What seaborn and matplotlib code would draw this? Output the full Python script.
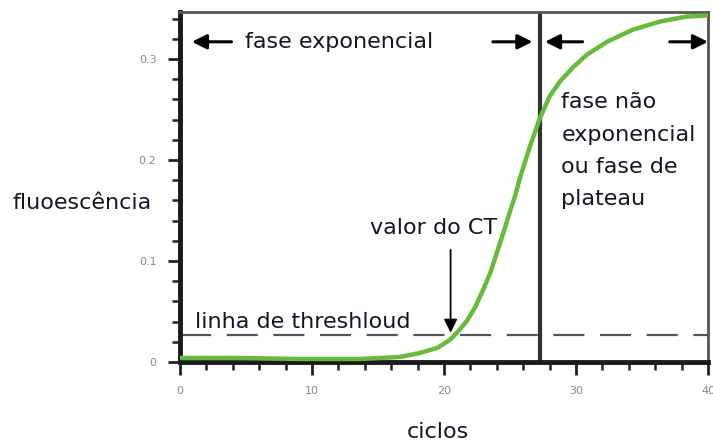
import numpy as np
import pandas as pd
import matplotlib
matplotlib.use("Agg")
import matplotlib.pyplot as plt
import seaborn as sns

# ---- data ----
ciclos = [0.0, 4.2, 9.1, 13.6, 16.7, 18.2, 19.5, 20.45, 21.05, 21.75, 22.35, 22.95,
          23.5, 24.0, 24.5, 25.0, 25.4, 25.75, 26.5, 27.25, 28.0, 28.8, 29.8,
          30.8, 32.35, 34.3, 36.35, 38.4, 40.0]
fluor = [0.004, 0.004, 0.003, 0.003, 0.005, 0.009, 0.014, 0.022, 0.030, 0.041, 0.054, 0.071,
         0.088, 0.108, 0.128, 0.149, 0.165, 0.182, 0.213, 0.241, 0.263, 0.278, 0.292,
         0.304, 0.317, 0.329, 0.337, 0.342, 0.343]
threshold = 0.027
fim_exponencial = 27.3
ct_valor = 20.5
x_ticks = [0, 10, 20, 30, 40]
y_ticks = [0, 0.1, 0.2, 0.3]
y_tick_labels = ["0", "0.1", "0.2", "0.3"]

df = pd.DataFrame({"ciclos": ciclos, "fluor": fluor})

sns.set_theme(style="white")
plt.rcParams['font.family'] = ['DejaVu Sans']

fig = plt.figure(figsize=(7.13, 4.44), dpi=100)
ax = fig.add_axes([180/713, 1-362/444, 528/713, 350/444])

sns.lineplot(data=df, x="ciclos", y="fluor", ax=ax, color="#66bb3a", lw=3.2, zorder=3)

ax.set_xlim(0, 40)
ax.set_ylim(0, 0.3465)
ax.set_xticks(x_ticks)
ax.set_xticks(np.arange(0, 41, 2), minor=True)
ax.set_yticks(y_ticks)
ax.set_yticklabels(y_tick_labels)
ax.set_xticklabels([str(t) for t in x_ticks])
ax.set_yticks(np.arange(0, 0.35, 0.02), minor=True)
ax.set_xlabel("")
ax.set_ylabel("")
ax.tick_params(which="major", direction="out", length=9, width=2, color="#222",
               labelsize=8, labelcolor="#888", pad=8, left=True, bottom=True)
ax.tick_params(which="minor", direction="out", length=6, width=1.8, color="#222",
               left=True, bottom=True)

for s in ["left", "bottom"]:
    ax.spines[s].set_linewidth(3.5)
    ax.spines[s].set_color("#1a1a1a")
for s in ["top", "right"]:
    ax.spines[s].set_linewidth(2)
    ax.spines[s].set_color("#555")

# threshold and phase boundary
ax.axhline(threshold, color="#555", lw=1.6, dashes=(14, 7), zorder=2)
ax.axvline(fim_exponencial, color="#333", lw=3, zorder=2)

txt = "#15152a"
fs = 16
arrow_y = 0.317
ap = dict(arrowstyle="-|>", color="black", lw=2.2, mutation_scale=22, shrinkA=0, shrinkB=0)
ax.annotate("", xy=(0.9, arrow_y), xytext=(3.9, arrow_y), arrowprops=ap)
ax.annotate("", xy=(26.7, arrow_y), xytext=(23.7, arrow_y), arrowprops=ap)
ax.annotate("", xy=(27.65, arrow_y), xytext=(30.5, arrow_y), arrowprops=ap)
ax.annotate("", xy=(40, arrow_y), xytext=(37.1, arrow_y), arrowprops=ap, annotation_clip=False)

ax.text(4.9, arrow_y, "fase exponencial", fontsize=fs, color=txt, va="center", ha="left")
ax.text(28.9, 0.267, "fase não\nexponencial\nou fase de\nplateau", fontsize=fs,
        color=txt, va="top", ha="left", linespacing=1.77)
ax.text(19.2, 0.133, "valor do CT", fontsize=fs, color=txt, va="center", ha="center")
ax.text(1.1, 0.040, "linha de threshloud", fontsize=fs, color=txt, va="center", ha="left")

ap2 = dict(arrowstyle="-|>", color="black", lw=1.3, mutation_scale=20, shrinkA=0, shrinkB=0)
ax.annotate("", xy=(ct_valor, threshold + 0.002), xytext=(ct_valor, 0.111), arrowprops=ap2)

fig.text(82/713, 1-203/444, "fluoescência", fontsize=fs, color=txt, ha="center", va="center")
fig.text(438/713, 1-432/444, "ciclos", fontsize=fs, color=txt, ha="center", va="center")

fig.savefig("out.png", dpi=100, facecolor="white")
